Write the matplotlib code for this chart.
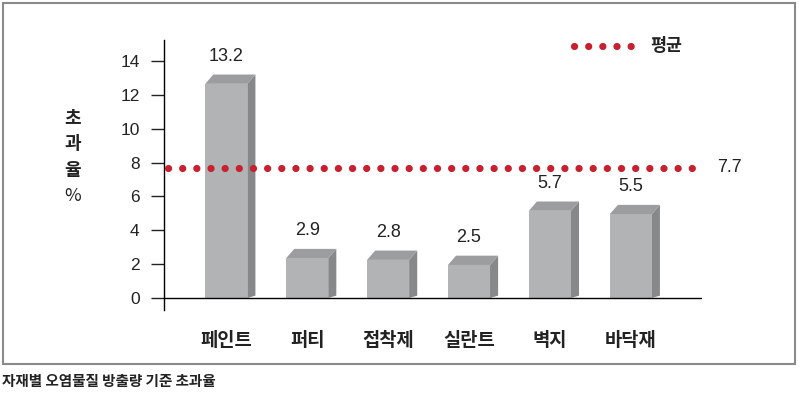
import numpy as np
import matplotlib.pyplot as plt
from matplotlib.patches import Polygon, Rectangle

plt.rcParams['font.family'] = ['Noto Sans CJK KR', 'DejaVu Sans']

# 데이터
categories = ['페인트', '퍼티', '접착제', '실란트', '벽지', '바닥재']
values = [13.2, 2.9, 2.8, 2.5, 5.7, 5.5]
average = 7.7
yticks = [0, 2, 4, 6, 8, 10, 12, 14]

num_font = ['Liberation Sans Narrow', 'Liberation Sans', 'DejaVu Sans']
red = '#c8202f'

fig = plt.figure(figsize=(8, 3.95), dpi=100)
ax = fig.add_axes([0.205, 0.2152, 0.6725, 0.6835])

x = np.arange(len(categories))
w = 0.52
dx, dy = 0.1, 0.55   # 3D 깊이 (뒤쪽 윗변이 값 위치)

for xi, v in zip(x, values):
    x0, x1 = xi - w / 2, xi + w / 2
    vf = v - dy
    # 옆면
    ax.add_patch(Polygon([[x1, 0], [x1 + dx, dy * 0.25], [x1 + dx, v], [x1, vf]],
                         closed=True, facecolor='#87888a', edgecolor='none'))
    # 윗면
    ax.add_patch(Polygon([[x0, vf], [x0 + dx, v], [x1 + dx, v], [x1, vf]],
                         closed=True, facecolor='#9c9d9f', edgecolor='none'))
    # 앞면
    ax.add_patch(Rectangle((x0, 0), w, vf, facecolor='#b2b3b5', edgecolor='none'))
    ax.annotate(f'{v:.1f}', (xi, v), xytext=(0, 7), textcoords='offset points',
                ha='center', va='bottom', fontsize=13, color='#222222', family=num_font)

# 평균선
ax.plot([-0.72, 5.86], [average, average], color=red, linewidth=5.2,
        linestyle=(0, (0.01, 1.95)), dash_capstyle='round', zorder=5)
ax.text(6.07, average, '7.7', ha='left', va='center', fontsize=13,
        color='#222222', family=num_font)

# 범례
ax.plot([4.3, 5.1], [14.9, 14.9], color=red, linewidth=5.2,
        linestyle=(0, (0.01, 1.95)), dash_capstyle='round', clip_on=False)
ax.text(5.24, 14.9, '평균', ha='left', va='center', fontsize=12.5,
        fontweight='bold', color='#222222')

ax.axhline(0, color='black', linewidth=1)

ax.set_xlim(-0.77, 5.88)
ax.set_ylim(-0.71, 15.24)
ax.set_yticks(yticks)
ax.set_yticklabels([str(t) for t in yticks], family=num_font, fontsize=12.5)
ax.tick_params(axis='y', length=9.5, width=1, pad=8, colors='#222222')
ax.set_xticks(x)
ax.set_xticklabels(categories, fontsize=13.5, fontweight='bold', color='#222222')
ax.tick_params(axis='x', length=0, pad=15)

for s in ['top', 'right', 'bottom']:
    ax.spines[s].set_visible(False)
ax.spines['left'].set_linewidth(1)

# 세로 축 제목
for i, ch in enumerate(['초', '과', '율', '%']):
    fig.text(73 / 800, 1 - (118 + i * 26) / 395, ch, ha='center', va='center',
             fontsize=13, fontweight='normal' if ch == '%' else 'bold',
             color='#222222')

# 테두리
fig.add_artist(Rectangle((3 / 800, 1 - 364 / 395), 792 / 800, 361 / 395,
                         transform=fig.transFigure, fill=False,
                         edgecolor='#8a8a8a', linewidth=1.5))

fig.text(2 / 800, 1 - 381 / 395, '자재별 오염물질 방출량 기준 초과율', ha='left', va='center',
         fontsize=10.5, fontweight='bold', color='#222222')

fig.savefig('out.png', dpi=100)
